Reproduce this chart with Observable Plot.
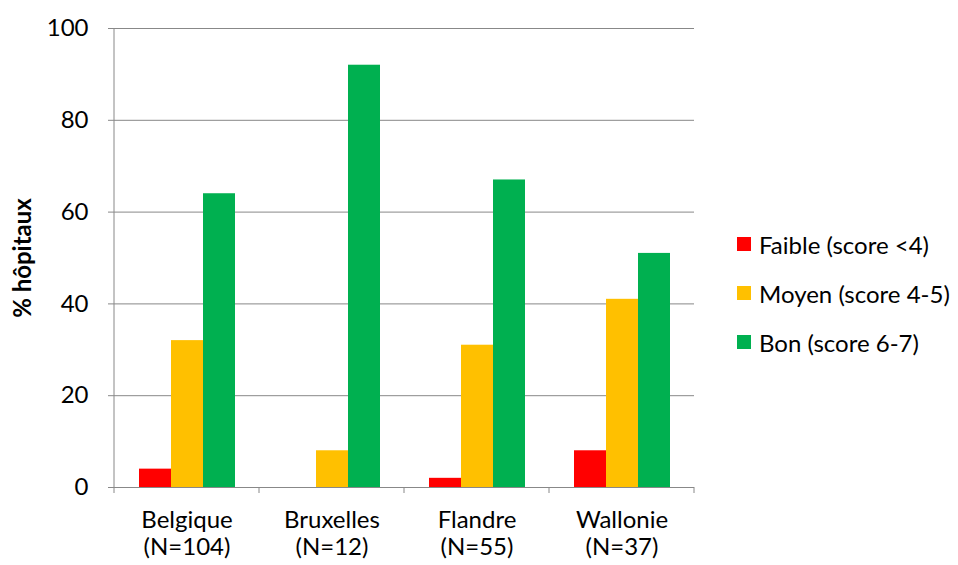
<!DOCTYPE html>
<html>
<head>
<meta charset="utf-8">
<script src="https://cdn.jsdelivr.net/npm/d3@7"></script>
<script src="https://cdn.jsdelivr.net/npm/@observablehq/plot@0.6"></script>
<style>
  body { margin: 0; background: #fff; font-family: Lato, "Open Sans", sans-serif; }
  #wrap { position: relative; width: 958px; height: 565px; }
  #legend { position: absolute; left: 737px; top: 230px; font-size: 24px; color: #000; }
  #legend .item { display: flex; align-items: center; height: 28px; margin-bottom: 21px; white-space: nowrap; }
  #legend .sw { width: 14px; height: 14px; margin-right: 8px; flex: none; }
  [aria-label="y-axis label"] { font-weight: bold; }
</style>
</head>
<body>
<div id="wrap"><div id="chart"></div><div id="legend"></div></div>
<script>
const regions = ["Belgique", "Bruxelles", "Flandre", "Wallonie"];
const regionN = ["(N=104)", "(N=12)", "(N=55)", "(N=37)"];
const series = ["Faible (score <4)", "Moyen (score 4-5)", "Bon (score 6-7)"];
const colors = ["#FF0000", "#FFC000", "#00B050"];
const faible = [4, 0, 2, 8];
const moyen = [32, 8, 31, 41];
const bon = [64, 92, 67, 51];
const yTicks = [0, 20, 40, 60, 80, 100];

const values = [faible, moyen, bon];
const data = regions.flatMap((r, i) => series.map((s, j) => ({region: r, series: s, value: values[j][i]})));

const grid = "#888888";

const plot = Plot.plot({
  width: 720,
  height: 565,
  marginLeft: 113,
  marginRight: 26,
  marginTop: 28,
  marginBottom: 78,
  style: {fontFamily: "Lato, 'Open Sans', sans-serif", fontSize: "24px", color: "#000", background: "white"},
  fx: {domain: regions, padding: 0, label: null},
  x: {domain: series, paddingInner: 0, paddingOuter: 0.7, axis: null},
  y: {domain: [0, 100], label: null},
  color: {domain: series, range: colors},
  marks: [
    Plot.ruleY(yTicks, {stroke: grid, strokeWidth: 1}),
    Plot.barY(data, {fx: "region", x: "series", y: "value", fill: "series"}),
    Plot.ruleY([0], {stroke: grid, strokeWidth: 1}),
    Plot.axisY({ticks: yTicks, tickSize: 6, tickPadding: 20, stroke: grid, fill: "#000", fontSize: 24,
      label: "% hôpitaux", labelAnchor: "center", labelOffset: 101, labelArrow: "none"}),
    Plot.axisFx({anchor: "bottom", tickSize: 0, tickPadding: 22, fill: "#000", fontSize: 24, lineHeight: 1.1, label: null,
      tickFormat: r => r + "\n" + regionN[regions.indexOf(r)]})
  ]
});

document.getElementById("chart").appendChild(plot);

// Axis line and category boundary ticks, placed with the plot's own scales
const fx = plot.scale("fx");
const y = plot.scale("y");
const svg = d3.select(plot.tagName.toLowerCase() === "svg" ? plot : plot.querySelector("svg"));
const g = svg.append("g").attr("stroke", grid).attr("stroke-width", 1);
const x0 = fx.apply(regions[0]);
g.append("line").attr("x1", x0).attr("x2", x0).attr("y1", y.apply(0)).attr("y2", y.apply(100));
const bounds = regions.map(r => fx.apply(r)).concat([fx.apply(regions[regions.length - 1]) + fx.bandwidth]);
bounds.forEach(b => {
  g.append("line").attr("x1", b).attr("x2", b).attr("y1", y.apply(0)).attr("y2", y.apply(0) + 6);
});

// Legend
const legend = d3.select("#legend");
series.forEach((s, j) => {
  const it = legend.append("div").attr("class", "item");
  it.append("div").attr("class", "sw").style("background", colors[j]);
  it.append("span").text(s);
});
</script>
</body>
</html>
